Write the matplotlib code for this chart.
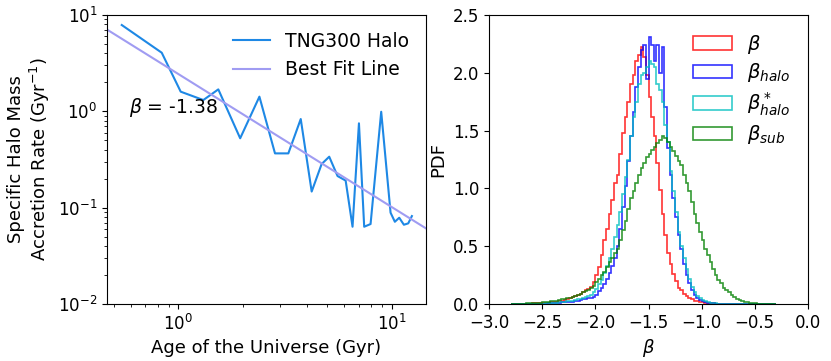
import numpy as np
import matplotlib
matplotlib.use("Agg")
import matplotlib.pyplot as plt

# ---------------- left panel data ----------------
age_gyr = [0.543, 0.836, 1.026, 1.31, 1.54, 1.95, 2.40, 2.84, 3.28, 3.75, 4.22,
           4.70, 5.10, 5.58, 6.09, 6.56, 7.03, 7.44, 7.97, 8.94, 9.89, 10.36,
           10.86, 11.42, 11.97, 12.45]
accretion_rate = [7.87, 4.06, 1.60, 1.31, 1.69, 0.525, 1.42, 0.366, 0.366, 0.832,
                  0.147, 0.284, 0.338, 0.213, 0.191, 0.0634, 0.751, 0.0634, 0.0676,
                  0.99, 0.0887, 0.0714, 0.0786, 0.0665, 0.0687, 0.0818]
fit_slope = -1.38
fit_norm = 2.44
fit_range = [0.463, 14.5]

# ---------------- right panel data (PDF per bin) ----------------
bin_start = -2.8
bin_width = 0.025
pdf_beta = [
    0, 0, 0, 0, 0.003, 0, 0.003, 0.003, 0.005, 0.005,
    0.005, 0.008, 0.008, 0.01, 0.012, 0.015, 0.02, 0.02, 0.025, 0.03,
    0.035, 0.04, 0.05, 0.06, 0.07, 0.08, 0.09, 0.10, 0.12, 0.13,
    0.15, 0.19, 0.25, 0.32, 0.42, 0.55, 0.65, 0.78, 0.90, 1.05,
    1.12, 1.30, 1.48, 1.62, 1.75, 1.90, 1.98, 2.10, 2.15, 2.22,
    2.14, 1.98, 1.79, 1.62, 1.45, 1.22, 0.99, 0.78, 0.60, 0.44,
    0.35, 0.26, 0.20, 0.14, 0.12, 0.09, 0.07, 0.05, 0.04, 0.03,
    0.025, 0.02, 0.015, 0.01, 0.008, 0.006, 0.005, 0.004, 0.003, 0.002,
    0.002, 0.001, 0, 0, 0, 0, 0, 0, 0, 0,
    0, 0, 0, 0, 0, 0, 0, 0, 0, 0,
]
pdf_beta_halo = [
    0, 0, 0, 0, 0, 0, 0, 0, 0, 0.002,
    0.002, 0.002, 0.004, 0.004, 0.005, 0.006, 0.008, 0.01, 0.012, 0.015,
    0.015, 0.018, 0.02, 0.02, 0.025, 0.03, 0.035, 0.04, 0.045, 0.05,
    0.05, 0.06, 0.08, 0.11, 0.14, 0.17, 0.22, 0.27, 0.33, 0.40,
    0.50, 0.65, 0.84, 1.02, 1.24, 1.45, 1.66, 1.88, 2.05, 2.20,
    2.24, 1.95, 2.31, 2.24, 2.10, 2.24, 2.00, 2.22, 1.70, 1.35,
    1.12, 0.92, 0.75, 0.60, 0.48, 0.35, 0.25, 0.18, 0.12, 0.08,
    0.05, 0.035, 0.025, 0.018, 0.012, 0.008, 0.006, 0.004, 0.003, 0.002,
    0.001, 0, 0, 0, 0, 0, 0, 0, 0, 0,
    0, 0, 0, 0, 0, 0, 0, 0, 0, 0,
]
pdf_beta_halo_star = [
    0, 0, 0, 0, 0, 0, 0, 0, 0, 0.002,
    0.002, 0.003, 0.004, 0.005, 0.006, 0.008, 0.01, 0.012, 0.015, 0.018,
    0.02, 0.022, 0.025, 0.03, 0.035, 0.04, 0.045, 0.05, 0.06, 0.07,
    0.08, 0.10, 0.13, 0.17, 0.21, 0.27, 0.33, 0.40, 0.48, 0.58,
    0.68, 0.80, 0.95, 1.10, 1.25, 1.45, 1.62, 1.75, 1.90, 1.98,
    2.00, 2.05, 2.10, 2.08, 2.05, 1.90, 1.85, 1.75, 1.55, 1.40,
    1.15, 0.98, 0.80, 0.62, 0.50, 0.40, 0.30, 0.22, 0.15, 0.10,
    0.07, 0.05, 0.035, 0.025, 0.018, 0.012, 0.008, 0.006, 0.004, 0.003,
    0.002, 0.001, 0, 0, 0, 0, 0, 0, 0, 0,
    0, 0, 0, 0, 0, 0, 0, 0, 0, 0,
]
pdf_beta_sub = [
    0, 0.002, 0.002, 0.003, 0.003, 0.004, 0.005, 0.006, 0.007, 0.008,
    0.01, 0.012, 0.014, 0.016, 0.02, 0.022, 0.025, 0.03, 0.035, 0.04,
    0.045, 0.05, 0.055, 0.06, 0.07, 0.08, 0.09, 0.10, 0.11, 0.12,
    0.14, 0.16, 0.19, 0.22, 0.25, 0.28, 0.32, 0.36, 0.40, 0.44,
    0.48, 0.55, 0.64, 0.72, 0.82, 0.92, 0.98, 1.05, 1.12, 1.18,
    1.22, 1.27, 1.30, 1.33, 1.36, 1.39, 1.42, 1.45, 1.44, 1.40,
    1.36, 1.32, 1.28, 1.24, 1.20, 1.12, 1.05, 0.98, 0.88, 0.78,
    0.70, 0.62, 0.55, 0.48, 0.42, 0.36, 0.30, 0.25, 0.21, 0.18,
    0.14, 0.12, 0.10, 0.08, 0.06, 0.045, 0.035, 0.025, 0.02, 0.015,
    0.01, 0.008, 0.006, 0.004, 0.003, 0.002, 0.001, 0, 0, 0,
]
hist_labels = [r'$\beta$', r'$\beta_{halo}$', r'$\beta^*_{halo}$', r'$\beta_{sub}$']
hist_colors = ['red', 'blue', 'c', 'green']

# ---------------- figure ----------------
fig = plt.figure(figsize=(8.31, 3.61), dpi=100)
ax1 = fig.add_axes([107/831, 57/361, 319/831, 289/361])
ax2 = fig.add_axes([489.3/831, 57/361, 318.4/831, 289/361])

FS = 12
LFS = 13

ax1.plot(age_gyr, accretion_rate, color='#1e88e5', lw=1.5, label='TNG300 Halo')
xf = np.array(fit_range)
ax1.plot(xf, fit_norm * xf ** fit_slope, color='#a09cf2', lw=1.5, label='Best Fit Line')
ax1.set_xscale('log')
ax1.set_yscale('log')
ax1.set_xlim(fit_range)
ax1.set_ylim(1e-2, 1e1)
ax1.set_xlabel('Age of the Universe (Gyr)', fontsize=LFS)
ax1.set_ylabel('Specific Halo Mass\nAccretion Rate (Gyr$^{-1}$)', fontsize=LFS)
ax1.tick_params(labelsize=FS)
ax1.text(0.07, 0.68, r'$\beta$ = -1.38', transform=ax1.transAxes, fontsize=13.5,
         va='center', ha='left')
ax1.legend(loc='upper right', frameon=False, fontsize=13.5)

edges = bin_start + bin_width * np.arange(len(pdf_beta) + 1)
centers = edges[:-1] + bin_width / 2
for vals, lab, col in zip([pdf_beta, pdf_beta_halo, pdf_beta_halo_star, pdf_beta_sub],
                          hist_labels, hist_colors):
    ax2.hist(centers, bins=edges, weights=vals, histtype='step', color=col,
             alpha=0.8, lw=1.2, label=lab)
ax2.set_xlim(-3.0, 0.0)
ax2.set_ylim(0, 2.5)
ax2.set_xlabel(r'$\beta$', fontsize=LFS)
ax2.set_ylabel('PDF', fontsize=LFS)
ax2.tick_params(labelsize=FS)
ax2.legend(loc='upper right', frameon=False, fontsize=14, labelspacing=0.3)

fig.savefig('out.png', dpi=100)
